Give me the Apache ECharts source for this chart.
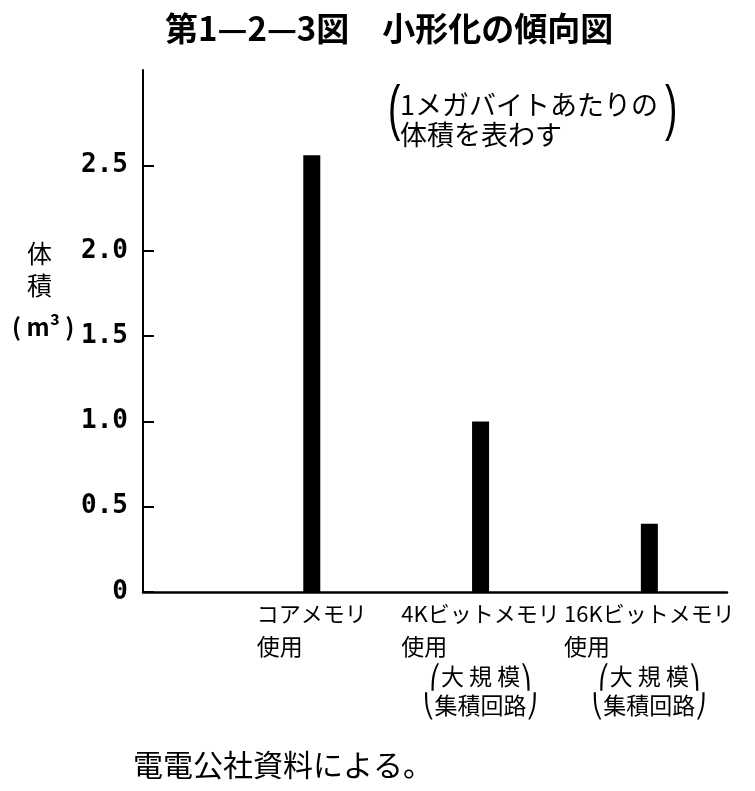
<!DOCTYPE html>
<html><head><meta charset="utf-8">
<script src="https://cdn.jsdelivr.net/npm/echarts@6/dist/echarts.min.js"></script>
<style>html,body{margin:0;padding:0;background:#fff}#c{width:755px;height:791px}</style>
</head><body><div id="c"></div>
<script>
const categories = ['コアメモリ', '4Kビットメモリ', '16Kビットメモリ'];
const categorySub = ['使用', '使用', '使用'];
const categoryNote = [null, ['大 規 模', '集積回路'], ['大 規 模', '集積回路']];
const volumes = [2.56, 1.0, 0.4];
const yTickValues = [0, 0.5, 1.0, 1.5, 2.0, 2.5];
const yTickLabels = ['0', '0.5', '1.0', '1.5', '2.0', '2.5'];
const titleText = '第1—2—3図　小形化の傾向図';
const yNameLines = ['体', '積', '( m³ )'];
const noteLines = ['1メガバイトあたりの', '体積を表わす'];
const sourceText = '電電公社資料による。';

const CJK = '"Noto Sans CJK JP", "DejaVu Sans", sans-serif';
const catPositions = categories.map((c, i) => i + 1);

const chart = echarts.init(document.getElementById('c'), null, {renderer: 'canvas'});
const option = {
  animation: false,
  backgroundColor: '#fff',
  title: {
    text: titleText, left: 160, top: 7,
    textStyle: {fontFamily: CJK, fontSize: 33, fontWeight: 'bold', color: '#000'}
  },
  grid: {left: 143, right: 28, top: 70, bottom: 199, containLabel: false},
  xAxis: {
    type: 'value', min: 0, max: 3.46,
    axisLine: {show: true, onZero: false, lineStyle: {color: '#000', width: 2.5}},
    axisTick: {show: false},
    splitLine: {show: false},
    axisLabel: {
      customValues: catPositions,
      hideOverlap: false,
      showMinLabel: true,
      showMaxLabel: true,
      margin: 6,
      color: '#000',
      formatter: function (v) {
        const i = catPositions.findIndex(p => Math.abs(p - v) < 1e-9);
        if (i < 0) return '';
        let s = '{a|' + categories[i] + '}\n{b|' + categorySub[i] + '}';
        if (categoryNote[i]) {
          s += '\n{c|⎛' + categoryNote[i][0] + '⎞}\n{c|⎝' + categoryNote[i][1] + '⎠}';
        }
        return s;
      },
      rich: {
        a: {fontFamily: CJK, fontSize: 22, lineHeight: 32, color: '#000', align: 'center'},
        b: {fontFamily: CJK, fontSize: 23, lineHeight: 32, color: '#000', align: 'left'},
        c: {fontFamily: CJK, fontSize: 23, lineHeight: 29, color: '#000', align: 'center'}
      }
    }
  },
  yAxis: {
    type: 'value', min: 0, max: 3.06,
    axisLine: {show: true, lineStyle: {color: '#000', width: 2}},
    axisTick: {show: true, inside: true, length: 11, lineStyle: {color: '#000', width: 2}, customValues: yTickValues},
    minorTick: {show: false},
    splitLine: {show: false},
    axisLabel: {
      customValues: yTickValues,
      margin: 15,
      color: '#000',
      fontFamily: '"DejaVu Sans Mono", monospace',
      fontSize: 26,
      fontWeight: 'bold',
      formatter: function (v) {
        const i = yTickValues.findIndex(p => Math.abs(p - v) < 1e-9);
        return i < 0 ? '' : yTickLabels[i];
      }
    }
  },
  series: [{
    type: 'bar',
    data: volumes.map((v, i) => [catPositions[i], v]),
    barWidth: 17,
    itemStyle: {color: '#000'}
  }],
  graphic: [
    {type: 'text', left: 27, top: 241, style: {text: yNameLines[0], font: '25px ' + CJK, fill: '#000'}},
    {type: 'text', left: 27, top: 273, style: {text: yNameLines[1], font: '25px ' + CJK, fill: '#000'}},
    {type: 'text', left: 12, top: 315, style: {text: yNameLines[2], font: 'bold 24px ' + CJK, fill: '#000'}},
    {type: 'text', x: 388, y: 80, scaleX: 0.6, style: {text: '(', font: '62px "Liberation Sans", sans-serif', fill: '#000'}},
    {type: 'text', left: 400, top: 90, style: {text: noteLines.join('\n'), font: '27px ' + CJK, lineHeight: 30, fill: '#000'}},
    {type: 'text', x: 665, y: 80, scaleX: 0.6, style: {text: ')', font: '62px "Liberation Sans", sans-serif', fill: '#000'}},
    {type: 'text', left: 133, top: 750, style: {text: sourceText, font: '30px ' + CJK, fill: '#000'}}
  ]
};
chart.setOption(option);
</script>
</body></html>
